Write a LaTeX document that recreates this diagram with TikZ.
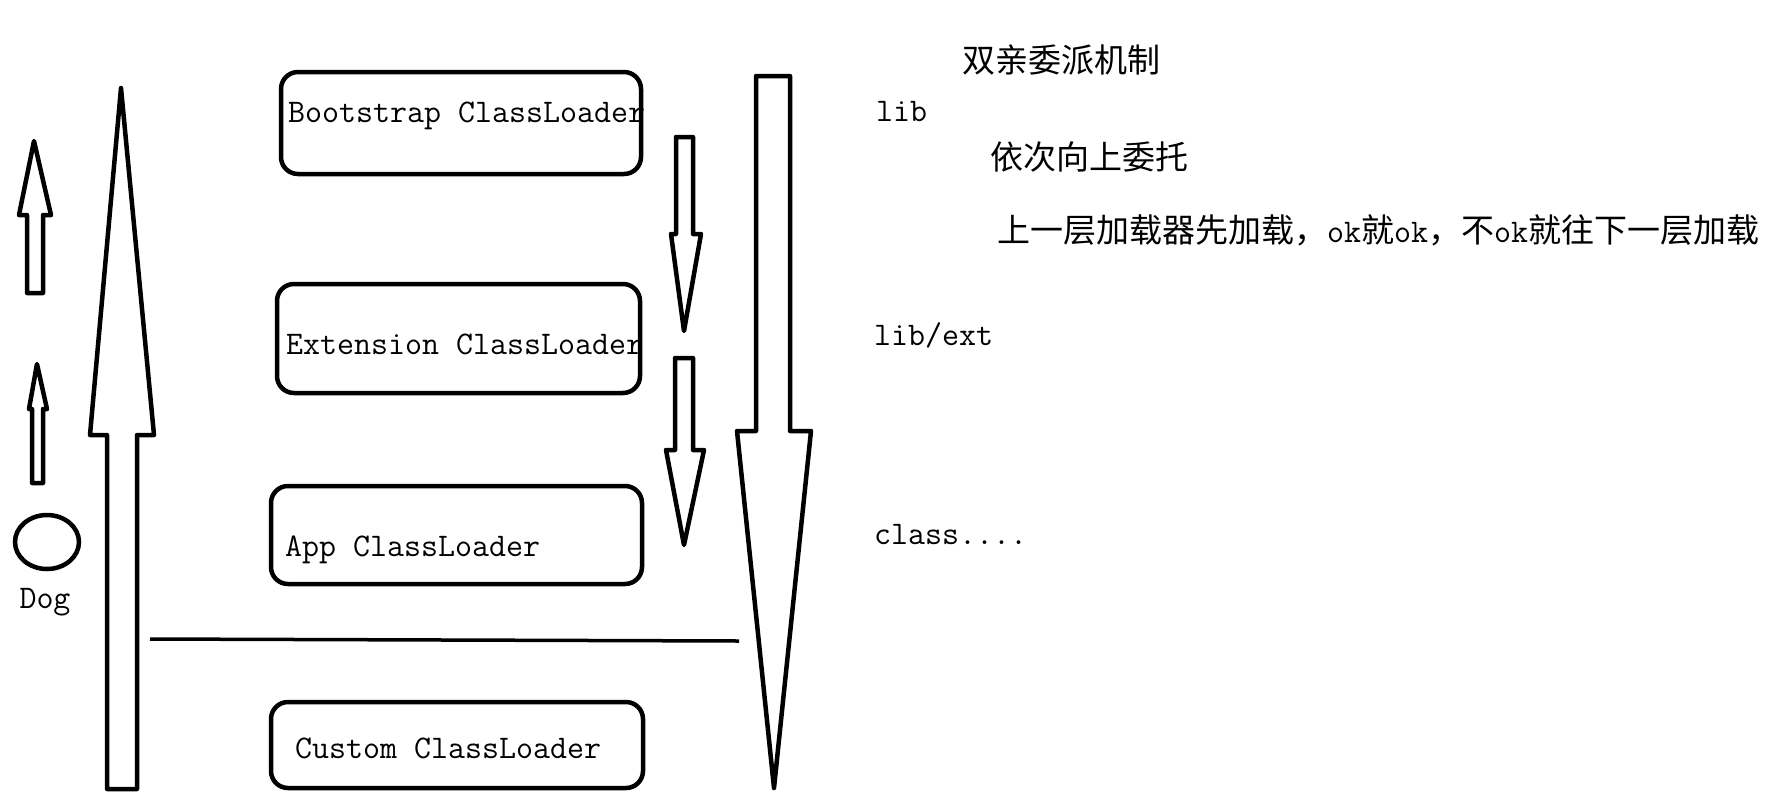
\documentclass[tikz,border=0pt]{standalone}
\usepackage{fontspec}
\usetikzlibrary{shapes.geometric}
\newfontfamily\cjk{Noto Sans CJK SC}
\begin{document}
\begin{tikzpicture}[x=1pt,y=-1pt,
  outl/.style={draw=black,line width=4.5pt,line join=round,fill=white},
  loaderbox/.style={draw=black,line width=4.5pt,rounded corners=17pt,inner sep=0pt},
  lbl/.style={inner sep=0pt,anchor=west,font=\fontsize{33}{33}\ttfamily},
  cjklbl/.style={inner sep=0pt,anchor=west,font=\fontsize{33}{33}\cjk}]
\useasboundingbox (0,0) rectangle (1772,801);
% up arrows
\draw[outl] (107,789)--(107,435)--(90,435)--(121,88)--(154,435)--(137,435)--(137,789)--cycle;
\draw[outl] (27,293)--(27,215)--(19,215)--(34,141)--(51,215)--(43,215)--(43,293)--cycle;
\draw[outl] (32,483)--(32,409)--(29,409)--(37,364)--(47,409)--(43,409)--(43,483)--cycle;
% down arrows
\draw[outl] (756,76)--(790,76)--(790,431)--(811,431)--(774,788)--(737,431)--(756,431)--cycle;
\draw[outl] (676,137)--(693,137)--(693,234)--(701,234)--(684,331)--(671,234)--(676,234)--cycle;
\draw[outl] (675,358)--(693,358)--(693,450)--(704,450)--(684,545)--(666,450)--(675,450)--cycle;
% dog
\node[draw=black,line width=4.5pt,ellipse,minimum width=64pt,minimum height=54pt,inner sep=0pt] (dog) at (47,542) {};
\node[lbl,anchor=center] (dogt) at (45,602) {Dog};
% boxes
\node[loaderbox,minimum width=360pt,minimum height=102pt] (boot) at (461,123) {};
\node[loaderbox,minimum width=363pt,minimum height=109pt] (ext) at (458.5,338.5) {};
\node[loaderbox,minimum width=371pt,minimum height=98pt] (app) at (456.5,535) {};
\node[loaderbox,minimum width=372pt,minimum height=86pt] (cust) at (457,745) {};
\node[lbl] (boott) at (288,116) {Bootstrap ClassLoader};
\node[lbl] (extt) at (286,344) {Extension ClassLoader};
\node[lbl] (appt) at (285,550) {App ClassLoader};
\node[lbl] (custt) at (295,748) {Custom ClassLoader};
% separator
\coordinate (sepl) at (150,639);
\coordinate (sepr) at (739,641);
\draw[line width=3.5pt] (sepl)--(sepr);
% texts
\node[cjklbl] (title) at (962,60) {双亲委派机制};
\node[lbl] (lib) at (876,112) {lib};
\node[cjklbl] (deleg) at (990,157) {依次向上委托};
\node[cjklbl] (rule) at (997,230) {上一层加载器先加载，{\ttfamily ok}就{\ttfamily ok}，不{\ttfamily ok}就往下一层加载};
\node[lbl] (libext) at (874,335) {lib/ext};
\node[lbl] (cls) at (874,535) {class....};
\end{tikzpicture}
\end{document}
